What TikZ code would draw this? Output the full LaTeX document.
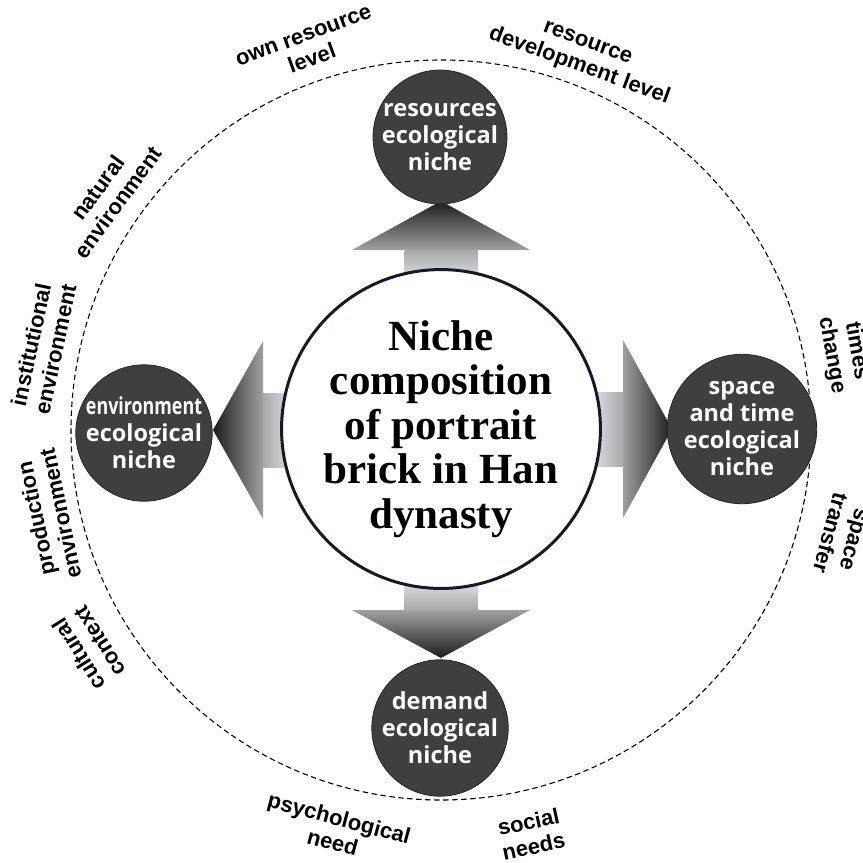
\documentclass[tikz,border=0pt]{standalone}
\usepackage{fontspec}
\usepackage{graphicx}
\setmainfont{Liberation Serif}
\newfontfamily\nichefont{Open Sans}
\newfontfamily\labelfont{Liberation Sans}
\definecolor{nichefill}{HTML}{3F3F3F}
\definecolor{ringcol}{HTML}{161A26}
\definecolor{arrdark}{HTML}{1C1C1C}
\definecolor{arrmid}{HTML}{A0A0A0}
\definecolor{arrmidb}{HTML}{A8A8A8}
\definecolor{arrlight}{HTML}{F3F6FB}
\begin{document}
\begin{tikzpicture}[x=1pt,y=-1pt,
  niche/.style={circle, fill=nichefill, draw=black!85, line width=0.8pt, minimum size=130pt, inner sep=0pt, text=white, align=center, font=\nichefont\bfseries\fontsize{23.5}{27}\selectfont},
  lbl/.style={align=center, font=\labelfont\bfseries\fontsize{22}{25}\selectfont, inner sep=0pt},
  centre/.style={circle, draw=ringcol, line width=3pt, fill=white, minimum size=270pt, inner sep=0pt, align=center, font=\bfseries\fontsize{43}{44.5}\selectfont},
  ringstyle/.style={circle, draw, dash pattern=on 5.5pt off 3.5pt, line width=1.1pt, minimum size=740pt, inner sep=0pt}
]
\useasboundingbox (0,0) rectangle (863,863);
\fill[white] (0,0) rectangle (863,863);
\node[ringstyle] (ring) at (441,430) {};
% arrows
\shade[top color=arrdark, bottom color=arrmid] (441,201) -- (530,250) -- (352,250) -- cycle;
\shade[top color=arrmidb, bottom color=arrlight] (404.5,250) rectangle (477.5,292);
\shade[left color=arrdark, right color=arrmid] (213,430) -- (263,341) -- (263,519) -- cycle;
\shade[left color=arrmidb, right color=arrlight] (263,393) rectangle (303,467);
\shade[right color=arrdark, left color=arrmid] (672,429) -- (623,340) -- (623,518) -- cycle;
\shade[right color=arrmidb, left color=arrlight] (580,392) rectangle (623,466);
\shade[bottom color=arrdark, top color=arrmid] (441,658) -- (530,610) -- (352,610) -- cycle;
\shade[bottom color=arrmidb, top color=arrlight] (404.5,570) rectangle (477.5,610);
% centre
\node[centre] (c) at (441,429) {Niche\\composition\\of portrait\\brick in Han\\dynasty};
% niches
\node[niche, minimum size=125pt] (res) at (440,137) {resources\\ecological\\niche};
\node[niche] (env) at (144,433) {\scalebox{0.76}[1]{environment}\\ecological\\niche};
\node[niche] (st) at (742,429) {space\\and time\\ecological\\niche};
\node[niche] (dem) at (440,728) {demand\\ecological\\niche};
% labels
\node[lbl, rotate=20] (l1) at (308,48) {own resource\\level};
\node[lbl, rotate=-20] (l2) at (583,56) {resource\\development level};
\node[lbl, rotate=54] (l3) at (108,195) {natural\\environment};
\node[lbl, rotate=78] (l4) at (43,347) {institutional\\environment};
\node[lbl, rotate=102] (l5) at (48,516) {production\\environment};
\node[lbl, rotate=122] (l6) at (89,648) {cultural\\context};
\node[lbl, rotate=-15] (l7) at (336,830) {psychological\\need};
\node[lbl, rotate=12] (l8) at (531,834) {social\\needs};
\node[lbl, rotate=-80] (l9) at (844,353) {times\\change};
\node[lbl, rotate=-105] (l10) at (841,536) {space\\transfer};
\end{tikzpicture}
\end{document}
